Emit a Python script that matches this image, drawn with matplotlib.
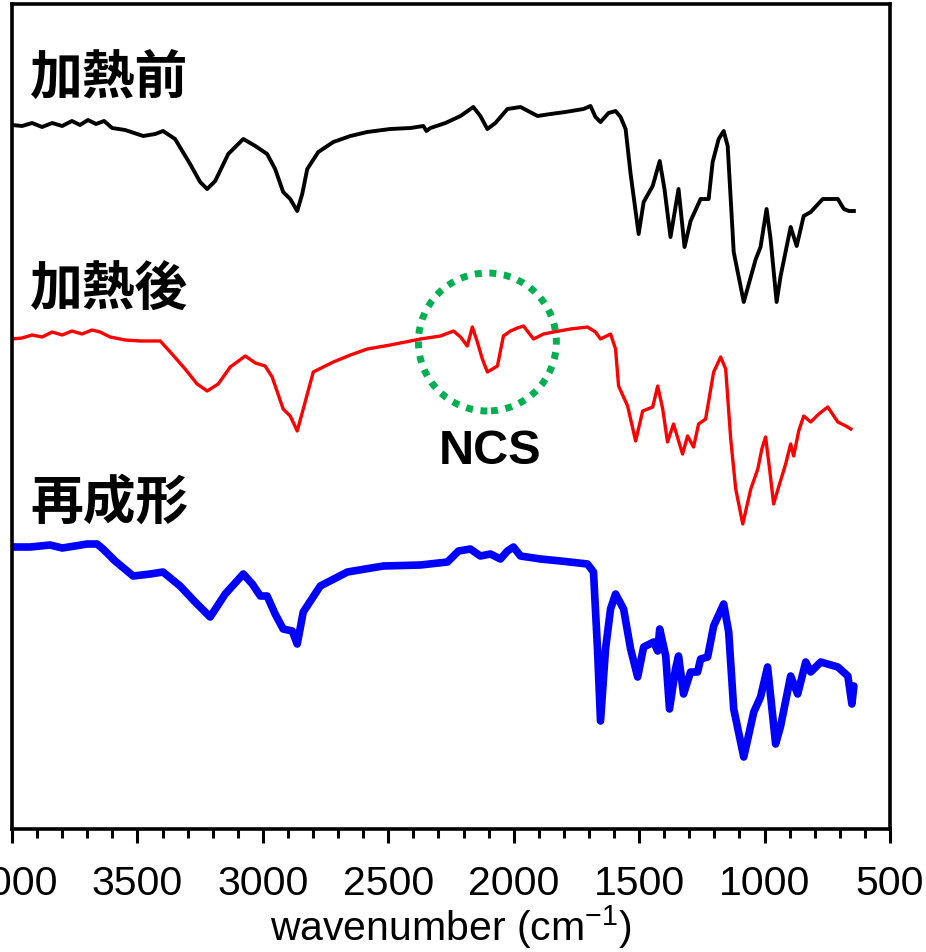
import matplotlib.pyplot as plt
from matplotlib.patches import Ellipse

# FT-IR spectra, stacked (intensity in arbitrary units, already offset)

# before heating (black)
wn_before = [4000, 3960, 3920, 3880, 3840, 3800, 3761, 3729, 3697, 3665, 3633, 3601,
             3549, 3477, 3429, 3398, 3350, 3290, 3250, 3222, 3190, 3138, 3078, 3030,
             2983, 2951, 2919, 2891, 2863, 2843, 2823, 2779, 2719, 2651, 2584, 2492,
             2412, 2360, 2348, 2332, 2272, 2212, 2161, 2133, 2105, 2073, 2025, 1973,
             1905, 1853, 1794, 1722, 1694, 1674, 1654, 1622, 1594, 1574, 1554, 1534,
             1502, 1482, 1446, 1418, 1399, 1375, 1343, 1319, 1295, 1255, 1223, 1207,
             1183, 1163, 1147, 1123, 1083, 1035, 1016, 992, 976, 952, 936, 896, 872,
             844, 816, 768, 708, 684, 664, 644]
int_before = [704, 703, 706, 702, 706, 703, 708, 704, 709, 705, 708, 701,
              699, 693, 695, 698, 690, 665, 647, 640, 648, 675, 690, 683,
              675, 660, 637, 630, 618, 635, 660, 677, 687, 693, 697, 700,
              701, 703, 698, 701, 706, 713, 722, 713, 700, 706, 720, 722,
              713, 715, 717, 720, 723, 712, 707, 716, 718, 712, 700, 655,
              595, 627, 643, 668, 640, 592, 640, 582, 608, 630, 630, 667,
              690, 698, 683, 577, 527, 570, 582, 620, 590, 527, 553, 602, 583,
              613, 617, 630, 630, 620, 618, 618]

# after heating (red)
wn_after = [4000, 3960, 3920, 3880, 3840, 3800, 3761, 3721, 3681, 3649, 3609, 3549,
            3489, 3409, 3362, 3310, 3262, 3222, 3178, 3130, 3070, 3030, 2991, 2963,
            2919, 2891, 2863, 2839, 2799, 2719, 2651, 2584, 2492, 2372, 2292, 2240,
            2212, 2185, 2165, 2145, 2125, 2105, 2065, 2041, 2013, 1985, 1961, 1921,
            1881, 1841, 1774, 1706, 1674, 1654, 1614, 1594, 1582, 1546, 1514, 1486,
            1446, 1426, 1406, 1387, 1363, 1327, 1307, 1283, 1263, 1235, 1203, 1175,
            1155, 1135, 1115, 1087, 1055, 1027, 1011, 996, 980, 964, 944, 916, 896,
            884, 864, 844, 816, 784, 748, 708, 676, 656]
int_after = [490, 491, 494, 492, 497, 494, 498, 495, 499, 497, 492, 489,
             488, 488, 475, 460, 445, 438, 445, 462, 473, 466, 463, 452,
             420, 413, 398, 420, 457, 467, 474, 480, 484, 490, 493, 498,
             492, 483, 502, 487, 470, 457, 463, 493, 498, 501, 503, 490,
             495, 497, 500, 502, 497, 490, 495, 480, 443, 423, 388, 418,
             422, 443, 420, 387, 405, 375, 393, 382, 405, 410, 457, 472,
             460, 390, 340, 305, 340, 360, 380, 392, 360, 325, 342, 365, 385,
             373, 398, 413, 407, 415, 422, 407, 403, 400]

# re-molded (blue)
wn_remold = [4000, 3928, 3848, 3800, 3749, 3701, 3661, 3637, 3589, 3517, 3449, 3398,
             3330, 3270, 3210, 3150, 3078, 3042, 3010, 2983, 2951, 2919, 2883, 2863,
             2839, 2771, 2663, 2520, 2372, 2264, 2220, 2173, 2133, 2093, 2053, 2025,
             2001, 1973, 1893, 1813, 1706, 1682, 1666, 1654, 1634, 1614, 1594, 1562,
             1534, 1506, 1482, 1442, 1426, 1418, 1394, 1379, 1355, 1343, 1323, 1295,
             1267, 1255, 1227, 1203, 1163, 1143, 1123, 1083, 1043, 1016, 988, 956,
             936, 896, 868, 836, 816, 776, 708, 668, 652, 644]
int_remold = [282, 282, 284, 281, 283, 285, 285, 280, 268, 253, 255, 257,
              243, 227, 212, 235, 255, 245, 233, 233, 215, 200, 198, 185,
              217, 243, 257, 263, 264, 267, 278, 280, 273, 275, 270, 278,
              282, 273, 270, 268, 265, 257, 180, 108, 180, 220, 235, 220,
              180, 152, 182, 187, 178, 200, 173, 120, 160, 173, 135, 157,
              157, 170, 172, 203, 225, 197, 120, 72, 117, 132, 162, 85,
              103, 153, 135, 167, 157, 167, 162, 153, 125, 143]

labels = ['加熱前', '加熱後', '再成形']
label_y = [752, 540, 327]

# NCS band marker
ncs_center = (2105, 487)

plt.rcParams['font.family'] = ['Liberation Sans', 'DejaVu Sans']
plt.rcParams['mathtext.fontset'] = 'custom'
plt.rcParams['mathtext.rm'] = 'Liberation Sans'

fig = plt.figure(figsize=(9.26, 9.53), dpi=100)
ax = fig.add_axes([12 / 926, 123 / 953, 878 / 926, 825 / 953])

ax.plot(wn_before, int_before, color='black', lw=2.8)
ax.plot(wn_after, int_after, color='#ff0000', lw=2.4)
ax.plot(wn_remold, int_remold, color='#0000ff', lw=5.5, solid_capstyle='round')

for txt, y in zip(labels, label_y):
    ax.text(3928, y, txt, ha='left', va='center', fontsize=38,
            fontweight='bold', family=['Noto Sans CJK JP', 'DejaVu Sans'])

# dotted circle round the NCS band (x radius in cm-1, y radius in a.u.)
ax.add_patch(Ellipse(ncs_center, width=550, height=138, fill=False,
                     edgecolor='#00b050', lw=5, linestyle=(0, (1, 1.1)),
                     capstyle='butt'))
ax.text(2093, 378, 'NCS', ha='center', va='center', fontsize=35,
        fontweight='bold')

ax.set_xlim(4000, 500)
ax.set_ylim(0, 825)
ax.set_xticks(range(4000, 499, -500))
ax.set_xticks(range(4000, 499, -100), minor=True)
ax.set_yticks([])

ax.tick_params(axis='x', which='major', direction='out', length=10, width=2.2,
               labelsize=29.5, pad=15)
ax.tick_params(axis='x', which='minor', direction='out', length=6.5, width=2.2)
for s in ax.spines.values():
    s.set_linewidth(2.6)

ax.set_xlabel('wavenumber (cm$^{\\mathregular{-1}}$)', fontsize=29.5, labelpad=0)

fig.savefig('out.png', dpi=100)
